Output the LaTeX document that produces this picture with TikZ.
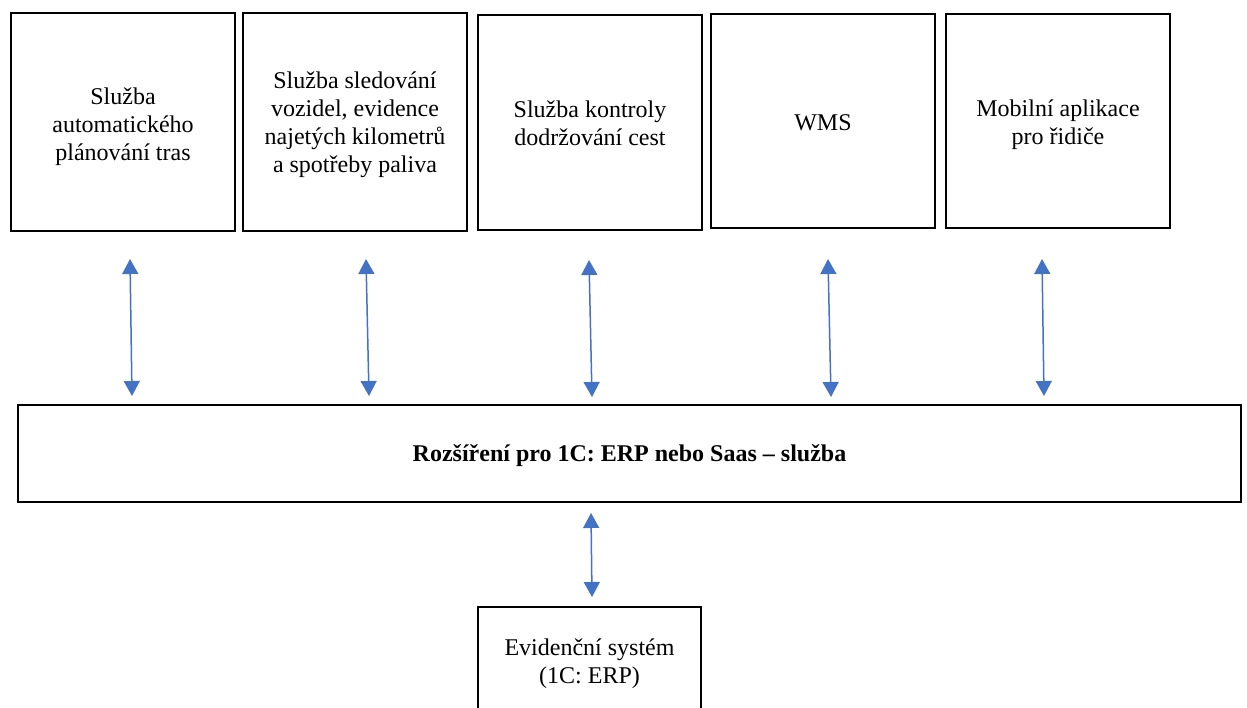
\documentclass[tikz,border=0pt]{standalone}
\usepackage{fontspec}
\setmainfont{Liberation Serif}
\usetikzlibrary{arrows.meta}
\definecolor{arrowblue}{RGB}{68,114,196}
\newcommand{\tup}[1]{\rule{0pt}{#1pt}}
\begin{document}
\begin{tikzpicture}[x=1pt,y=-1pt,
  box/.style={draw=black,line width=2pt,fill=white,inner sep=0pt,align=center,
    anchor=north west,font=\fontsize{24}{27.8}\selectfont},
  link/.style={draw=arrowblue,line width=1.5pt,
    {Triangle[width=16pt,length=15pt]}-{Triangle[width=16pt,length=15pt]}}]
\useasboundingbox (0,0) rectangle (1247,708);
\clip (0,0) rectangle (1247,708);
\node[box,minimum width=224pt,minimum height=218pt] (b1) at (10,12) {\tup{26.4}Služba\\automatického\\plánování tras};
\node[box,minimum width=224pt,minimum height=218pt] (b2) at (242,12) {\tup{22.4}Služba sledování\\vozidel, evidence\\najetých kilometrů\\a spotřeby paliva};
\node[box,minimum width=224pt,minimum height=215pt] (b3) at (477,14) {\tup{18.4}Služba kontroly\\dodržování cest};
\node[box,minimum width=224pt,minimum height=214pt] (b4) at (710,13) {\tup{19.9}WMS};
\node[box,minimum width=224pt,minimum height=214pt] (b5) at (945,13) {\tup{24.4}Mobilní aplikace\\pro řidiče};
\node[box,minimum width=1223pt,minimum height=97pt] (ext) at (17,404) {\tup{20.5}\bfseries Rozšíření pro 1C: ERP nebo Saas – služba};
\node[box,minimum width=223pt,minimum height=110pt] (erp) at (477,606) {\tup{20.4}Evidenční systém\\(1C: ERP)};
\coordinate (t1) at (130,259); \coordinate (u1) at (132,396);
\coordinate (t2) at (366,259); \coordinate (u2) at (369,396);
\coordinate (t3) at (589,260); \coordinate (u3) at (592,397);
\coordinate (t4) at (828,259); \coordinate (u4) at (831,397);
\coordinate (t5) at (1042,259); \coordinate (u5) at (1044,396);
\coordinate (t6) at (591,513); \coordinate (u6) at (592,597);
\draw[link] (t1) -- (u1);
\draw[link] (t2) -- (u2);
\draw[link] (t3) -- (u3);
\draw[link] (t4) -- (u4);
\draw[link] (t5) -- (u5);
\draw[link] (t6) -- (u6);
\end{tikzpicture}
\end{document}
